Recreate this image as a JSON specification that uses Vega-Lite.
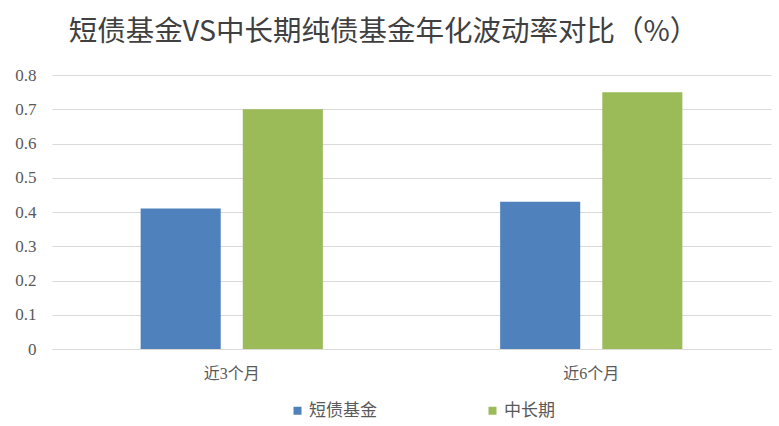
{
  "$schema": "https://vega.github.io/schema/vega-lite/v6.json",
  "width": 719,
  "height": 274,
  "autosize": "none",
  "padding": {"left": 52, "top": 75, "right": 8, "bottom": 77},
  "background": "white",
  "title": {
    "text": "短债基金VS中长期纯债基金年化波动率对比（%）",
    "font": "Noto Sans CJK SC",
    "fontSize": 28.5,
    "fontWeight": "normal",
    "color": "#404040",
    "anchor": "middle",
    "dx": -28,
    "offset": 20
  },
  "data": {
    "values": [
      {"period": "近3个月", "series": "短债基金", "value": 0.41},
      {"period": "近3个月", "series": "中长期", "value": 0.70},
      {"period": "近6个月", "series": "短债基金", "value": 0.43},
      {"period": "近6个月", "series": "中长期", "value": 0.75}
    ]
  },
  "config": {
    "view": {"stroke": null},
    "font": "'Liberation Serif', 'Times New Roman', serif"
  },
  "mark": {"type": "bar"},
  "encoding": {
    "x": {
      "field": "period",
      "type": "nominal",
      "sort": ["近3个月", "近6个月"],
      "scale": {"paddingInner": 0, "paddingOuter": 0},
      "axis": {
        "title": null,
        "labelAngle": 0,
        "labelFont": "'Liberation Serif', 'Times New Roman', 'Noto Sans CJK SC', serif",
        "labelFontSize": 16,
        "labelColor": "#595959",
        "labelPadding": 16,
        "ticks": false,
        "domainColor": "#d9d9d9",
        "domainWidth": 1
      }
    },
    "xOffset": {
      "field": "series",
      "type": "nominal",
      "sort": ["短债基金", "中长期"],
      "scale": {"paddingInner": 0.216, "paddingOuter": 0.868}
    },
    "y": {
      "field": "value",
      "type": "quantitative",
      "scale": {"domain": [0, 0.8], "nice": false},
      "axis": {
        "title": null,
        "values": [0, 0.1, 0.2, 0.3, 0.4, 0.5, 0.6, 0.7, 0.8],
        "format": ".1~f",
        "labelFont": "'Liberation Serif', 'Times New Roman', serif",
        "labelFontSize": 17,
        "labelColor": "#595959",
        "labelPadding": 16,
        "ticks": false,
        "domain": false,
        "gridColor": "#d9d9d9",
        "gridWidth": 1
      }
    },
    "color": {
      "field": "series",
      "type": "nominal",
      "sort": ["短债基金", "中长期"],
      "scale": {"domain": ["短债基金", "中长期"], "range": ["#4f81bd", "#9bbb59"]},
      "legend": {
        "title": null,
        "orient": "none",
        "direction": "horizontal",
        "legendX": 237,
        "legendY": 327,
        "symbolType": "square",
        "symbolSize": 64,
        "symbolStrokeWidth": 0,
        "symbolOpacity": 1,
        "labelFont": "Noto Sans CJK SC",
        "labelFontSize": 17,
        "labelColor": "#595959",
        "labelOffset": 3,
        "columnPadding": 107
      }
    }
  }
}
